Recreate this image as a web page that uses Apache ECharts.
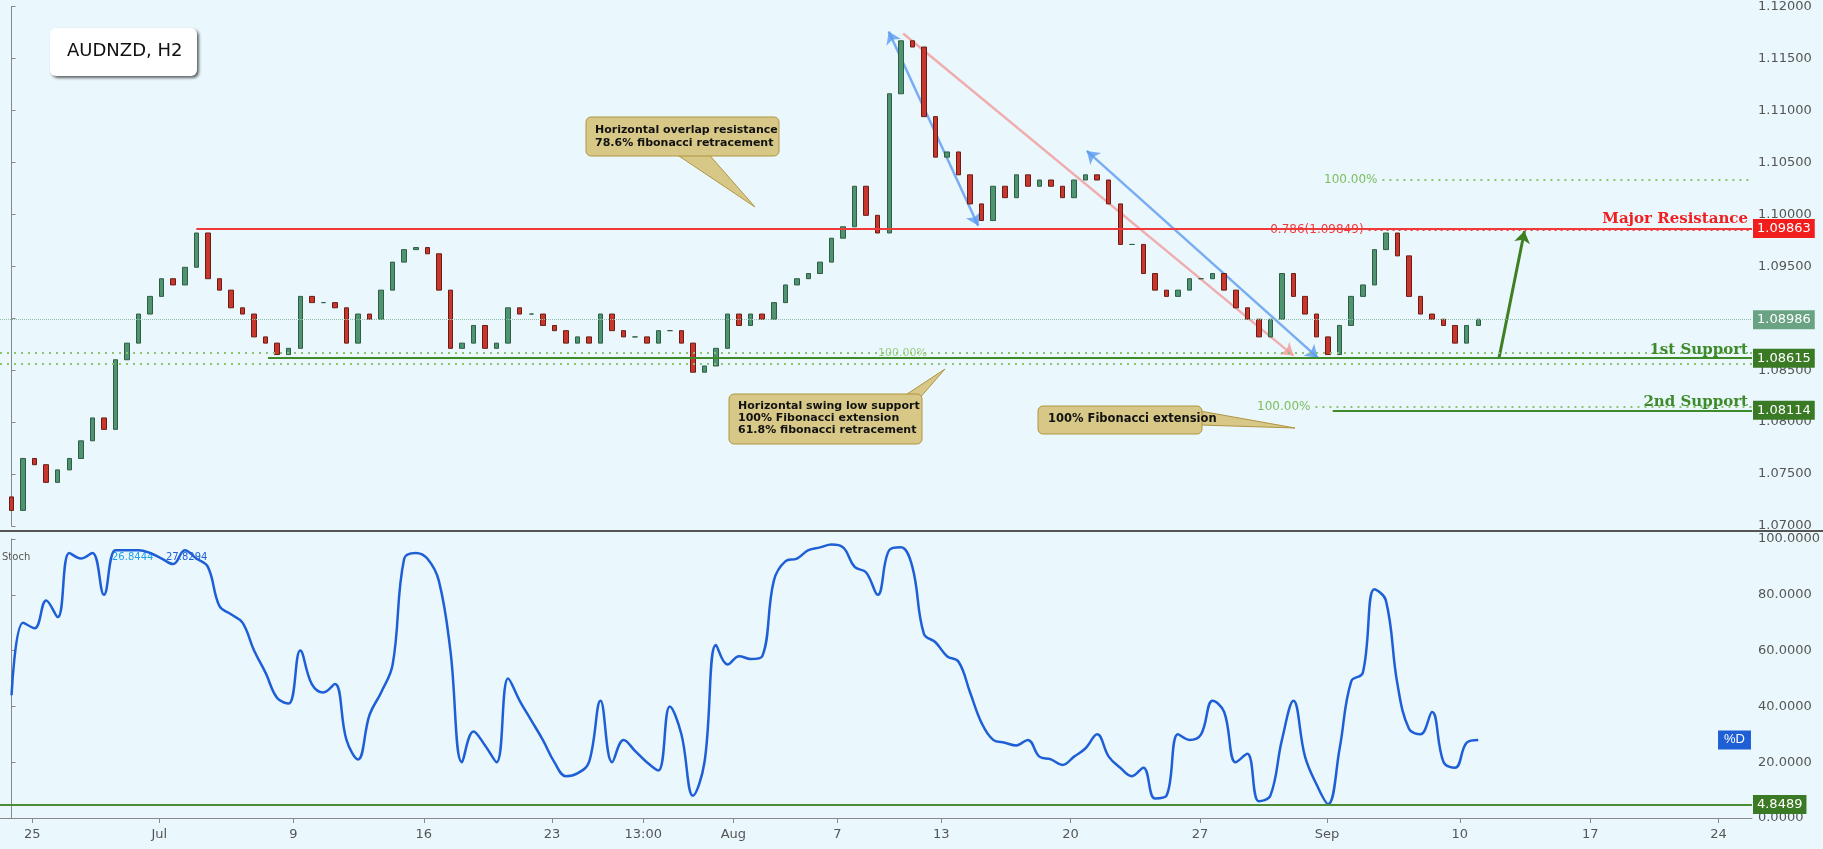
<!DOCTYPE html>
<html>
<head>
<meta charset="utf-8">
<script src="https://cdn.jsdelivr.net/npm/echarts@6/dist/echarts.min.js"></script>
<style>
html,body{margin:0;padding:0;background:#eaf8fe;}
#chart{width:1823px;height:849px;}
</style>
</head>
<body>
<div id="chart"></div>
<script>
// closes sampled along the chart, one per slot (~1 slot = 11.6px)
var closes = [
  1.0715,1.0765,1.0759,1.0742,1.0754,1.0765,1.0782,1.0804,1.0793,1.0860,
  1.0876,1.0904,1.0921,1.0938,1.0932,1.0949,1.0982,1.0938,1.0927,1.0910,
  1.0904,1.0882,1.0876,1.0865,1.0871,1.0921,1.0915,1.0915,1.0910,1.0876,
  1.0904,1.0899,1.0927,1.0954,1.0966,1.0968,1.0962,1.0927,1.0871,1.0876,
  1.0893,1.0871,1.0876,1.0910,1.0904,1.0904,1.0893,1.0888,1.0876,1.0882,
  1.0876,1.0904,1.0888,1.0882,1.0882,1.0876,1.0888,1.0888,1.0876,1.0848,
  1.0854,1.0871,1.0904,1.0893,1.0904,1.0899,1.0915,1.0932,1.0938,1.0943,
  1.0954,1.0977,1.0988,1.1027,1.0999,1.0982,1.1116,1.1167,1.1161,1.1094,
  1.1055,1.1060,1.1038,1.1010,1.0994,1.1027,1.1016,1.1038,1.1027,1.1033,
  1.1027,1.1016,1.1033,1.1038,1.1033,1.1010,1.0971,1.0971,1.0943,1.0927,
  1.0921,1.0927,1.0938,1.0938,1.0943,1.0927,1.0910,1.0899,1.0882,1.0899,
  1.0943,1.0921,1.0904,1.0882,1.0865,1.0893,1.0921,1.0932,1.0966,1.0982,
  1.0960,1.0921,1.0904,1.0899,1.0893,1.0876,1.0893,1.0899
];
var firstOpen = 1.0728;

var stochD = [
  44,70,68,78,72,95,93,95,80,96,
  96,96,95,93,91,96,93,90,76,73,
  70,60,52,43,41,60,48,45,48,28,
  21,37,45,55,93,95,93,85,60,20,
  31,26,20,50,42,35,28,20,15,16,
  20,42,20,28,24,20,17,40,30,8,
  20,62,55,58,57,58,85,92,93,96,
  97,98,97,90,88,80,96,97,90,66,
  63,58,56,45,34,28,27,26,28,22,
  21,19,22,25,30,22,18,15,18,7,
  8,30,28,30,42,38,20,23,6,8,
  28,42,22,12,5,25,49,52,82,78,
  48,32,30,38,20,18,27,28
];

var tickSlots = [1.8,12.8,24.4,35.7,46.8,54.7,62.5,71.5,80.5,91.7,102.9,113.9,125.4,136.7,147.8];
var tickNames = ['25','Jul','9','16','23','13:00','Aug','7','13','20','27','Sep','10','17','24'];

var majorResistance = 1.09863;
var lastPrice = 1.08986;
var support1 = 1.08615;
var support2 = 1.08114;
var fib786 = 1.09849;
var stochLow = 4.8489;

var candles = [];
for (var i = 0; i < closes.length; i++) {
  var o = i === 0 ? firstOpen : closes[i - 1];
  var c = closes[i];
  candles.push([i, o, c, Math.min(o, c), Math.max(o, c)]);
}
var stochPts = stochD.map(function (v, i) { return [i, v]; });

var bg = '#eaf8fe';
var axisTxt = '#555';
var xEnd = 150.7;
var hidden = {color: 'rgba(0,0,0,0)', width: 0};

function boxLabel(text, color) {
  return {
    show: true, position: 'end', distance: 1, formatter: text,
    backgroundColor: color, color: '#fff', fontSize: 13, fontFamily: 'DejaVu Sans',
    padding: [3, 4, 3, 4]
  };
}
function seg(x1, y1, x2, y2, style, label) {
  return [{coord: [x1, y1], lineStyle: style, label: label || {show: false}}, {coord: [x2, y2]}];
}
var dots = {color: '#8cc470', type: [2, 5], width: 2};

var chart = echarts.init(document.getElementById('chart'));
chart.setOption({
  backgroundColor: bg,
  animation: false,
  grid: [
    {left: 0, right: 71, top: 5, height: 521},
    {left: 0, right: 71, top: 539, height: 279}
  ],
  xAxis: [
    {gridIndex: 0, type: 'value', min: -1, max: xEnd, show: false},
    {gridIndex: 1, type: 'value', min: -1, max: xEnd,
      axisLine: {show: true, lineStyle: {color: '#888'}},
      axisTick: {show: true, customValues: tickSlots, lineStyle: {color: '#888'}},
      splitLine: {show: false},
      axisLabel: {customValues: tickSlots, color: axisTxt, fontSize: 13, margin: 10, fontFamily: 'DejaVu Sans',
        formatter: function (v) { var k = tickSlots.indexOf(v); return k >= 0 ? tickNames[k] : ''; }}}
  ],
  yAxis: [
    {gridIndex: 0, type: 'value', position: 'right', min: 1.07, max: 1.12, interval: 0.005,
      axisLine: {show: true, lineStyle: {color: '#888'}},
      axisTick: {show: true, length: 4, lineStyle: {color: '#888'}},
      splitLine: {show: false},
      axisLabel: {color: axisTxt, fontSize: 13, fontFamily: 'DejaVu Sans', margin: 6,
        formatter: function (v) { return v.toFixed(5); }}},
    {gridIndex: 1, type: 'value', position: 'right', min: 0, max: 100, interval: 20,
      axisLine: {show: true, lineStyle: {color: '#888'}},
      axisTick: {show: true, length: 4, lineStyle: {color: '#888'}},
      splitLine: {show: false},
      axisLabel: {color: axisTxt, fontSize: 13, fontFamily: 'DejaVu Sans', margin: 6,
        formatter: function (v) { return v.toFixed(4); }}}
  ],
  series: [
    {
      type: 'candlestick', xAxisIndex: 0, yAxisIndex: 0, barWidth: 5,
      data: candles, encode: {x: 0, y: [1, 2, 3, 4]},
      itemStyle: {color: '#4f9470', color0: '#c8372d', borderColor: '#2f5e44', borderColor0: '#6b1d14', borderWidth: 1},
      markLine: {
        silent: true, symbol: 'none',
        data: [
          seg(-1, 1.0867, xEnd, 1.0867, dots),
          seg(-1, 1.08564, xEnd, 1.08564, dots),
          seg(-1, lastPrice, xEnd, lastPrice, {color: '#8fbfa6', type: 'dotted', width: 1}, boxLabel('1.08986', '#6aa383')),
          seg(16, majorResistance, xEnd, majorResistance, {color: '#f03a3a', width: 2, type: 'solid'},
            {show: true, position: 'insideEndTop', formatter: 'Major Resistance', color: '#f02020', fontSize: 15, fontWeight: 'bold', fontFamily: 'DejaVu Serif', distance: [4, 2]}),
          seg(xEnd - 1, majorResistance, xEnd, majorResistance, hidden, boxLabel('1.09863', '#f21d1d')),
          seg(22.2, support1, xEnd, support1, {color: '#3f8a2a', width: 2, type: 'solid'},
            {show: true, position: 'insideEndTop', formatter: '1st Support', color: '#3f8a2a', fontSize: 15, fontWeight: 'bold', fontFamily: 'DejaVu Serif', distance: [4, 1]}),
          seg(xEnd - 1, support1, xEnd, support1, hidden, boxLabel('1.08615', '#3b7a25')),
          seg(114.4, support2, xEnd, support2, {color: '#3f8a2a', width: 2, type: 'solid'},
            {show: true, position: 'insideEndTop', formatter: '2nd Support', color: '#3f8a2a', fontSize: 15, fontWeight: 'bold', fontFamily: 'DejaVu Serif', distance: [4, 1]}),
          seg(xEnd - 1, support2, xEnd, support2, hidden, boxLabel('1.08114', '#3b7a25')),
          seg(112.9, 1.0815, xEnd, 1.0815, dots,
            {show: true, position: 'start', formatter: '100.00%', color: '#7cbc5c', fontSize: 12, fontFamily: 'DejaVu Sans'}),
          seg(118.7, 1.1033, xEnd, 1.1033, dots,
            {show: true, position: 'start', formatter: '100.00%', color: '#7cbc5c', fontSize: 12, fontFamily: 'DejaVu Sans'}),
          seg(117.5, fib786, xEnd, fib786, {color: '#f03a3a', type: [2, 4], width: 2},
            {show: true, position: 'start', formatter: '0.786(1.09849)', color: '#f03a3a', fontSize: 12, fontFamily: 'DejaVu Sans'}),
          seg(79.7, 1.0866, 82, 1.0866, hidden,
            {show: true, position: 'start', formatter: '100.00%', color: '#9ccc84', fontSize: 11, fontFamily: 'DejaVu Sans'})
        ]
      }
    },
    {
      type: 'lines', coordinateSystem: 'cartesian2d', xAxisIndex: 0, yAxisIndex: 0, silent: true,
      symbol: ['none', 'arrow'], symbolSize: 12,
      lineStyle: {width: 2.5, opacity: 0.8, curveness: 0},
      data: [
        {coords: [[77.2, 1.1174], [111, 1.0864]], lineStyle: {color: '#f19a9a'}},
        {coords: [[83.7, 1.0989], [75.95, 1.1176]], symbol: ['arrow', 'arrow'], lineStyle: {color: '#5b9af0'}},
        {coords: [[113.1, 1.0862], [93.1, 1.1061]], symbol: ['arrow', 'arrow'], lineStyle: {color: '#5b9af0'}},
        {coords: [[128.8, 1.0862], [131, 1.0984]], lineStyle: {color: '#3f7f22', width: 3, opacity: 1}}
      ]
    },
    {
      type: 'line', xAxisIndex: 1, yAxisIndex: 1, data: stochPts, smooth: 0.4, showSymbol: false,
      lineStyle: {color: '#1f5fd6', width: 2.5},
      markLine: {
        silent: true, symbol: 'none',
        data: [
          seg(-1, stochLow, xEnd, stochLow, {color: '#4c8c34', width: 2, type: 'solid'}, boxLabel('4.8489', '#3b7a25')),
          seg(xEnd - 3, stochD[stochD.length - 1], xEnd, stochD[stochD.length - 1], hidden,
            {show: true, position: 'insideEnd', formatter: '%D', backgroundColor: '#1f5fd6', color: '#fff', fontSize: 13, padding: [3, 6], distance: 1})
        ]
      }
    }
  ],
  graphic: [
    {type: 'line', shape: {x1: 0, y1: 531, x2: 1823, y2: 531}, style: {stroke: '#555', lineWidth: 2}},
    {type: 'rect', shape: {x: 50, y: 28, width: 147, height: 48, r: 6}, style: {fill: '#fff', shadowBlur: 3, shadowOffsetX: 2, shadowOffsetY: 2, shadowColor: 'rgba(0,0,0,0.6)'}},
    {type: 'text', x: 67, y: 42, style: {text: 'AUDNZD, H2', fontSize: 18, fontFamily: 'DejaVu Sans', fill: '#111'}},
    {type: 'text', x: 2, y: 552, style: {text: 'Stoch', fontSize: 10, fill: '#555', fontFamily: 'DejaVu Sans'}},
    {type: 'text', x: 112, y: 552, style: {text: '26.8444', fontSize: 10, fill: '#1ea0e8', fontFamily: 'DejaVu Sans'}},
    {type: 'text', x: 166, y: 552, style: {text: '27.8294', fontSize: 10, fill: '#1f5fd6', fontFamily: 'DejaVu Sans'}},
    // callouts
    {type: 'polygon', shape: {points: [[670, 150], [705, 150], [755, 207]]}, style: {fill: '#d7c887', stroke: '#b09540'}},
    {type: 'rect', shape: {x: 586, y: 117, width: 193, height: 39, r: 5}, style: {fill: '#d7c887', stroke: '#b09540'}},
    {type: 'polygon', shape: {points: [[671, 155], [704, 155], [700, 152], [674, 152]]}, style: {fill: '#d7c887'}},
    {type: 'text', x: 595, y: 124, style: {text: 'Horizontal overlap resistance\n78.6% fibonacci retracement', fontSize: 11, fontWeight: 'bold', lineHeight: 13, fill: '#111', fontFamily: 'DejaVu Sans'}},
    {type: 'polygon', shape: {points: [[898, 400], [918, 400], [945, 369]]}, style: {fill: '#d7c887', stroke: '#b09540'}},
    {type: 'rect', shape: {x: 729, y: 394, width: 193, height: 50, r: 5}, style: {fill: '#d7c887', stroke: '#b09540'}},
    {type: 'polygon', shape: {points: [[899, 395], [917, 395], [917, 398], [899, 398]]}, style: {fill: '#d7c887'}},
    {type: 'text', x: 738, y: 400, style: {text: 'Horizontal swing low support\n100% Fibonacci extension\n61.8% fibonacci retracement', fontSize: 11, fontWeight: 'bold', lineHeight: 12, fill: '#111', fontFamily: 'DejaVu Sans'}},
    {type: 'polygon', shape: {points: [[1200, 411], [1200, 425], [1295, 428]]}, style: {fill: '#d7c887', stroke: '#b09540'}},
    {type: 'rect', shape: {x: 1038, y: 406, width: 164, height: 28, r: 5}, style: {fill: '#d7c887', stroke: '#b09540'}},
    {type: 'polygon', shape: {points: [[1201, 412], [1201, 424], [1198, 424], [1198, 412]]}, style: {fill: '#d7c887'}},
    {type: 'text', x: 1048, y: 413, style: {text: '100% Fibonacci extension', fontSize: 11.5, fontWeight: 'bold', fill: '#111', fontFamily: 'DejaVu Sans'}}
  ]
});
</script>
</body>
</html>
